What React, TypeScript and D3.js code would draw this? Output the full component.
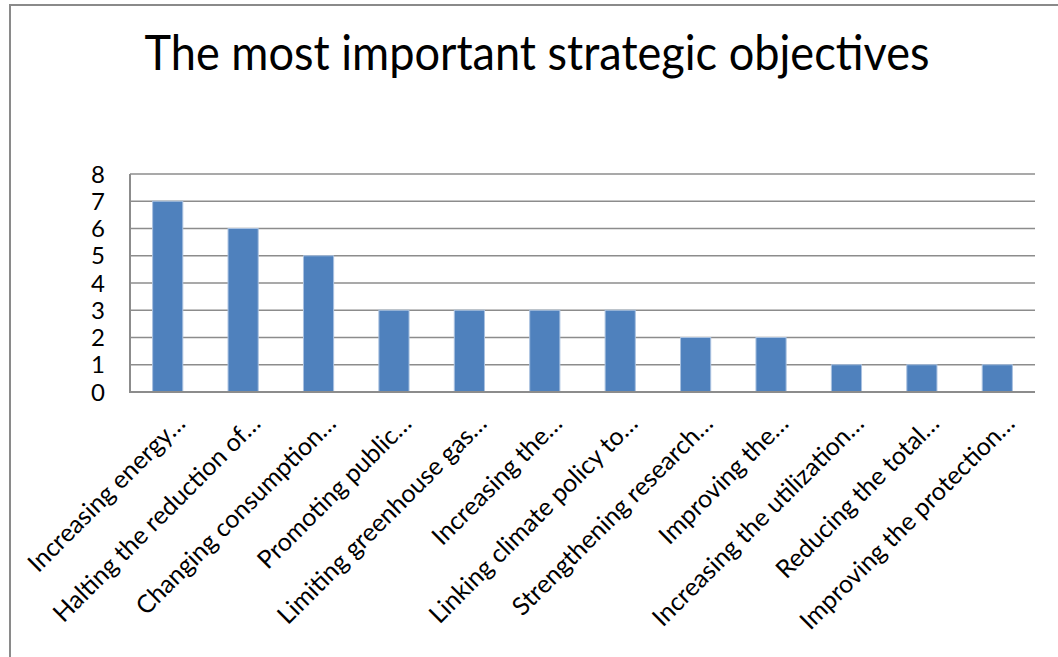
import React from "react";
import * as d3 from "d3";

const categories = [
  "Increasing energy…",
  "Halting the reduction of…",
  "Changing consumption…",
  "Promoting public…",
  "Limiting greenhouse gas…",
  "Increasing the…",
  "Linking climate policy to…",
  "Strengthening research…",
  "Improving the…",
  "Increasing the utilization…",
  "Reducing the total…",
  "Improving the protection…",
];
const values = [7, 6, 5, 3, 3, 3, 3, 2, 2, 1, 1, 1];
const yTicks = [0, 1, 2, 3, 4, 5, 6, 7, 8];
const title = "The most important strategic objectives";

const W = 1058;
const H = 657;
const left = 130;
const right = 1035;
const top = 174;
const bottom = 392;
const font = "Lato, 'Open Sans', sans-serif";

export default function App() {
  const x = d3
    .scaleBand<string>()
    .domain(categories)
    .range([left, right])
    .paddingInner(0.6)
    .paddingOuter(0.3);
  const y = d3.scaleLinear().domain([0, 8]).range([bottom, top]);
  const grid = "#8c8c8c";

  return (
    <svg
      width={W}
      height={H}
      style={{ position: "absolute", left: 0, top: 0, background: "#fff" }}
    >
      <rect x={0} y={0} width={W} height={H} fill="#fff" />
      <path d={`M10,${H + 5} L10,5 L${W + 5},5`} fill="none" stroke="#8a8a8a" strokeWidth={2} />
      <text
        x={537}
        y={70}
        textAnchor="middle"
        fontFamily={font}
        fontSize={48}
        textLength={785}
        lengthAdjust="spacingAndGlyphs"
        fill="#000"
      >
        {title}
      </text>
      {yTicks.map((t) => (
        <g key={t}>
          {t > 0 && (
            <line x1={left} x2={right} y1={y(t)} y2={y(t)} stroke={grid} strokeWidth={1.6} />
          )}
          <text
            x={105}
            y={y(t)}
            dy="0.36em"
            textAnchor="end"
            fontFamily={font}
            fontSize={24}
            fill="#000"
          >
            {t}
          </text>
        </g>
      ))}
      {categories.map((c, i) => (
        <rect
          key={c}
          x={x(c)!}
          y={y(values[i])}
          width={x.bandwidth()}
          height={y(0) - y(values[i])}
          fill="#4f81bd"
          stroke="#a9c1e0"
          strokeWidth={1}
        />
      ))}
      <line x1={left} x2={left} y1={top} y2={bottom + 1} stroke={grid} strokeWidth={2} />
      <line x1={left - 1} x2={right} y1={bottom} y2={bottom} stroke={grid} strokeWidth={2} />
      {categories.map((c) => {
        const cx = x(c)! + x.bandwidth() / 2;
        return (
          <text
            key={c}
            transform={`translate(${cx + 19},${bottom + 33}) rotate(-45)`}
            textAnchor="end"
            fontFamily={font}
            fontSize={25}
            fill="#000"
          >
            {c}
          </text>
        );
      })}
    </svg>
  );
}
